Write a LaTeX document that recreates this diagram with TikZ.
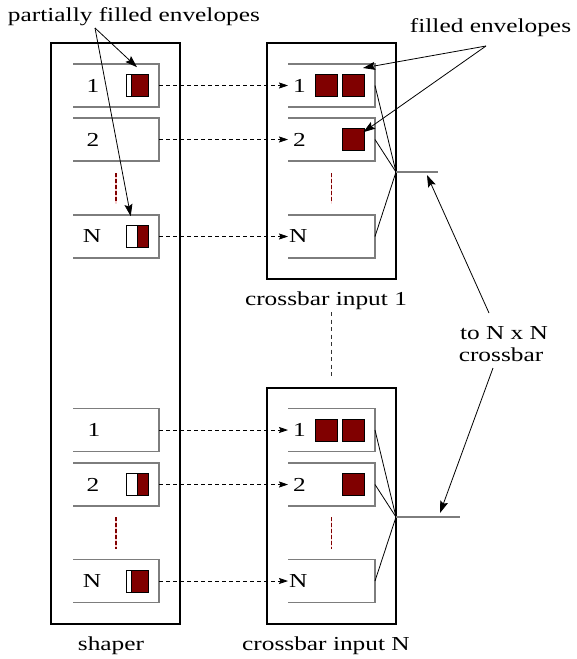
\documentclass[tikz,border=0pt]{standalone}
\usepackage{fontspec}
\setmainfont{Liberation Serif}[FakeStretch=1.28]
\usetikzlibrary{arrows.meta,calc}
\definecolor{envred}{RGB}{128,0,0}
\definecolor{qgray}{RGB}{125,125,125}

\tikzset{
  outerbox/.style={draw=black, line width=1.1pt, inner sep=0pt, outer sep=0pt},
  queuebox/.style={inner sep=0pt, outer sep=0pt, minimum height=43pt},
  qline/.style={draw=qgray, line width=1.6pt},
  lab/.style={inner sep=0pt, outer sep=0pt},
  fullenv/.style={draw=black, line width=0.6pt, fill=envred, inner sep=0pt,
    minimum width=22pt, minimum height=22pt},
  partenv/.style={draw=black, line width=0.6pt, fill=white, inner sep=0pt,
    minimum width=22pt, minimum height=22pt,
    path picture={
      \fill[envred] ([xshift=#1]path picture bounding box.north west)
        rectangle (path picture bounding box.south east);
      \draw[line width=0.6pt] ([xshift=#1]path picture bounding box.north west)
        -- ([xshift=#1]path picture bounding box.south west);}},
  dasharrow/.style={draw=black, line width=0.8pt, dash pattern=on 4pt off 3pt,
    -{Stealth[length=9pt,width=6pt,inset=1.5pt]}},
  pointer/.style={draw=black, line width=0.8pt,
    -{Stealth[length=12pt,width=8pt,inset=2pt]}},
  feed/.style={draw=black, line width=0.8pt},
  outline/.style={draw=qgray, line width=1.4pt},
  gap/.style={draw=envred, line width=1.1pt, dash pattern=on 4pt off 2pt,
    preaction={draw=pink!80, line width=1.1pt}},
  midgap/.style={draw=black!80, line width=0.8pt, dash pattern=on 4pt off 3.5pt},
}

\newcommand{\qbox}[1]{\draw[qline] (#1.north west) -- (#1.north east)
  -- (#1.south east) -- (#1.south west);}

\begin{document}
\begin{tikzpicture}[x=1pt, y=-1pt, font=\fontsize{19.8}{22}\selectfont]
\useasboundingbox (0,0) rectangle (577,659);

% outer frames
\node[outerbox, minimum width=129pt, minimum height=581pt] (shaper) at (115.5,333.5) {};
\node[outerbox, minimum width=129pt, minimum height=236pt] (cb1) at (331.5,161) {};
\node[outerbox, minimum width=129pt, minimum height=236pt] (cbN) at (331.5,506) {};

% shaper queues
\node[queuebox, minimum width=86pt] (su1) at (116,85.5) {};
\node[queuebox, minimum width=86pt] (su2) at (116,139.5) {};
\node[queuebox, minimum width=86pt] (suN) at (116,236.5) {};
\node[queuebox, minimum width=86pt] (sl1) at (116,430) {};
\node[queuebox, minimum width=86pt] (sl2) at (116,484.5) {};
\node[queuebox, minimum width=86pt] (slN) at (116,581) {};
% crossbar input queues
\node[queuebox, minimum width=87pt] (cu1) at (331.5,85.5) {};
\node[queuebox, minimum width=87pt] (cu2) at (331.5,139.5) {};
\node[queuebox, minimum width=87pt] (cuN) at (331.5,236.5) {};
\node[queuebox, minimum width=87pt] (cl1) at (331.5,430) {};
\node[queuebox, minimum width=87pt] (cl2) at (331.5,484.5) {};
\node[queuebox, minimum width=87pt] (clN) at (331.5,581) {};

\foreach \q in {su1,su2,suN,sl1,sl2,slN,cu1,cu2,cuN,cl1,cl2,clN}{\qbox{\q}}

% queue numbers
\node[lab] (su1t) at ($(su1.west)+(20,0)$) {1};
\node[lab] (su2t) at ($(su2.west)+(20,0)$) {2};
\node[lab] (suNt) at ($(suN.west)+(19,0)$) {N};
\node[lab] (sl1t) at ($(sl1.west)+(21,0)$) {1};
\node[lab] (sl2t) at ($(sl2.west)+(20,0)$) {2};
\node[lab] (slNt) at ($(slN.west)+(19,0)$) {N};
\node[lab, anchor=west] (cu1t) at ($(cu1.west)+(5,0)$) {1};
\node[lab, anchor=west] (cu2t) at ($(cu2.west)+(5,0)$) {2};
\node[lab, anchor=west] (cuNt) at ($(cuN.west)+(1,0)$) {N};
\node[lab, anchor=west] (cl1t) at ($(cl1.west)+(5,0)$) {1};
\node[lab, anchor=west] (cl2t) at ($(cl2.west)+(5,0)$) {2};
\node[lab, anchor=west] (clNt) at ($(clN.west)+(1,0)$) {N};

% envelopes
\node[partenv=5pt]  (es1) at ($(su1.east)+(-22,0)$) {};
\node[partenv=11pt] (esN) at ($(suN.east)+(-22,0)$) {};
\node[partenv=11pt] (es2) at ($(sl2.east)+(-22,0)$) {};
\node[partenv=5pt]  (es3) at ($(slN.east)+(-22,0)$) {};
\node[fullenv] (eu1a) at ($(cu1.east)+(-49,0)$) {};
\node[fullenv] (eu1b) at ($(cu1.east)+(-22,0)$) {};
\node[fullenv] (eu2)  at ($(cu2.east)+(-22,0)$) {};
\node[fullenv] (el1a) at ($(cl1.east)+(-49,0)$) {};
\node[fullenv] (el1b) at ($(cl1.east)+(-22,0)$) {};
\node[fullenv] (el2)  at ($(cl2.east)+(-22,0)$) {};

% elided queues
\draw[gap] ($(su2.south)+(0,12)$) -- ($(suN.north)+(0,-12)$);
\draw[gap] ($(cu2.south)+(0,12)$) -- ($(cuN.north)+(0,-12)$);
\draw[gap] ($(sl2.south)+(0,11)$) -- ($(slN.north)+(0,-11)$);
\draw[gap] ($(cl2.south)+(0,11)$) -- ($(clN.north)+(0,-11)$);

% shaper to crossbar inputs
\foreach \a/\b in {su1/cu1,su2/cu2,suN/cuN,sl1/cl1,sl2/cl2,slN/clN}
  {\draw[dasharrow] (\a.east) -- (\b.west);}

% queues merging onto the crossbar line
\coordinate (j1) at (396,172);
\coordinate (o1) at (438,172);
\coordinate (jN) at (396,517);
\coordinate (oN) at (460,517);
\foreach \q in {cu1,cu2,cuN}{\draw[feed] (\q.east) -- (j1);}
\foreach \q in {cl1,cl2,clN}{\draw[feed] (\q.east) -- (jN);}
\draw[outline] (j1) -- (o1);
\draw[outline] (jN) -- (oN);

% captions
\node[lab, anchor=base west] (pfe) at (8,21) {partially filled envelopes};
\node[lab, anchor=base] (fe) at (490.5,32) {filled envelopes};
\node[lab, anchor=base] (cbl1) at (326,305) {crossbar input 1};
\node[lab, anchor=base] (cblN) at (326,650) {crossbar input N};
\node[lab, anchor=base] (shl) at (111,650) {shaper};
\node[lab, anchor=base] (tnn) at (504,339) {to N x N};
\node[lab, anchor=base] (tcb) at (501,361) {crossbar};

% more crossbar inputs in between
\draw[midgap] ($(cb1.south)+(0,33)$) -- ($(cbN.north)+(0,-11)$);

% pointers
\coordinate (pfeS) at (95,28);
\coordinate (feS) at (486,46);
\coordinate (tnnS) at (489,313);
\coordinate (tcbS) at (493,368);
\draw[pointer] (pfeS) -- ($(es1.north)+(0,-7)$);
\draw[pointer] (pfeS) -- ($(esN.north west)+(5,-9)$);
\draw[pointer] (feS) -- ($(cu1.north east)+(-12,4)$);
\draw[pointer] (feS) -- ($(eu2.north east)+(-1,4)$);
\draw[pointer] (tnnS) -- ($(o1)+(-11,3)$);
\draw[pointer] (tcbS) -- ($(oN)+(-20,-4)$);
\end{tikzpicture}
\end{document}
